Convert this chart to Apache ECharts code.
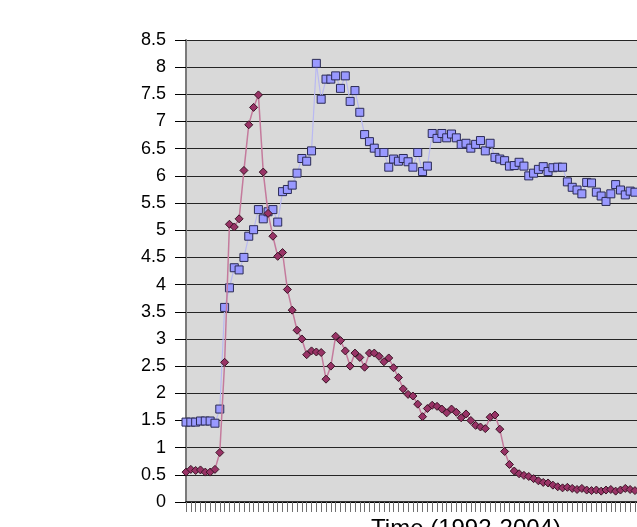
<!DOCTYPE html>
<html>
<head>
<meta charset="utf-8">
<script src="https://cdn.jsdelivr.net/npm/echarts@6/dist/echarts.min.js"></script>
<style>
  html, body { margin: 0; padding: 0; background: #ffffff; overflow: hidden; }
  #chart { width: 760px; height: 527px; }
</style>
</head>
<body>
<div id="chart"></div>
<script>
// Observation slots along the time axis (1992-2004); only the first part carries readings here
const slotCount = 117;
const categories = Array.from({ length: slotCount }, (_, i) => String(i + 1));

// Series 1 (squares)
const seriesA = [
  1.47, 1.47, 1.47, 1.49, 1.49, 1.49, 1.45, 1.71, 3.58, 3.94,
  4.31, 4.27, 4.50, 4.89, 5.01, 5.38, 5.21, 5.34, 5.38, 5.15,
  5.71, 5.75, 5.83, 6.05, 6.32, 6.27, 6.46, 8.07, 7.41, 7.78,
  7.78, 7.84, 7.61, 7.84, 7.37, 7.57, 7.17, 6.76, 6.63, 6.51,
  6.43, 6.43, 6.16, 6.31, 6.27, 6.32, 6.26, 6.16, 6.43, 6.08,
  6.18, 6.78, 6.69, 6.78, 6.70, 6.77, 6.70, 6.58, 6.60, 6.51,
  6.58, 6.65, 6.46, 6.60, 6.34, 6.31, 6.28, 6.18, 6.19, 6.25,
  6.18, 6.00, 6.05, 6.12, 6.17, 6.08, 6.15, 6.16, 6.16, 5.89,
  5.79, 5.74, 5.67, 5.88, 5.87, 5.70, 5.63, 5.53, 5.67, 5.84,
  5.74, 5.65, 5.72, 5.70
];

// Series 2 (diamonds)
const seriesB = [
  0.55, 0.60, 0.58, 0.59, 0.55, 0.55, 0.60, 0.91, 2.57, 5.11,
  5.06, 5.21, 6.10, 6.94, 7.26, 7.49, 6.07, 5.31, 4.89, 4.52,
  4.59, 3.91, 3.53, 3.16, 3.00, 2.71, 2.78, 2.76, 2.75, 2.26,
  2.50, 3.05, 2.97, 2.78, 2.50, 2.74, 2.66, 2.48, 2.74, 2.74,
  2.68, 2.58, 2.65, 2.47, 2.29, 2.08, 1.98, 1.95, 1.80, 1.57,
  1.72, 1.78, 1.76, 1.71, 1.64, 1.71, 1.65, 1.55, 1.62, 1.50,
  1.41, 1.38, 1.35, 1.56, 1.60, 1.34, 0.93, 0.69, 0.57, 0.52,
  0.49, 0.47, 0.43, 0.39, 0.36, 0.35, 0.31, 0.28, 0.26, 0.27,
  0.25, 0.23, 0.25, 0.22, 0.21, 0.22, 0.20, 0.22, 0.23, 0.20,
  0.22, 0.25, 0.23, 0.21
];

// Value axis range
const yMin = 0;
const yMax = 8.5;
const yStep = 0.5;

const xTitle = 'Time (1992-2004)';

const chart = echarts.init(document.getElementById('chart'), null, { renderer: 'canvas' });

chart.setOption({
  animation: false,
  backgroundColor: '#ffffff',
  grid: {
    left: 186,
    right: 14,
    top: 40,
    bottom: 25,
    containLabel: false,
    outerBoundsMode: 'none',
    show: true,
    backgroundColor: '#d9d9d9',
    borderWidth: 0
  },
  xAxis: {
    type: 'category',
    data: categories,
    boundaryGap: false,
    name: xTitle,
    nameLocation: 'middle',
    nameGap: 15,
    nameTextStyle: {
      fontFamily: 'Liberation Sans, Arial, sans-serif',
      fontSize: 24,
      color: '#000000'
    },
    axisLine: { show: true, lineStyle: { color: '#000000', width: 1.5 } },
    axisTick: {
      show: true,
      interval: 0,
      length: 10,
      lineStyle: { color: '#707070', width: 1 }
    },
    axisLabel: { show: false },
    splitLine: { show: false }
  },
  yAxis: {
    type: 'value',
    min: yMin,
    max: yMax,
    interval: yStep,
    axisLine: { show: true, lineStyle: { color: '#7a7a7a', width: 2 } },
    axisTick: { show: true, length: 11, lineStyle: { color: '#000000', width: 1 } },
    axisLabel: {
      margin: 20,
      fontFamily: 'Liberation Sans, Arial, sans-serif',
      fontSize: 18,
      color: '#000000'
    },
    splitLine: { show: true, lineStyle: { color: '#262626', width: 1.2 } }
  },
  series: [
    {
      name: 'Series 1',
      type: 'line',
      data: seriesA,
      symbol: 'rect',
      symbolSize: 8,
      showAllSymbol: true,
      lineStyle: { color: '#b9b9f2', width: 1.2 },
      itemStyle: { color: '#9999ff', borderColor: '#2b2b55', borderWidth: 1 },
      z: 2
    },
    {
      name: 'Series 2',
      type: 'line',
      data: seriesB,
      symbol: 'diamond',
      symbolSize: 8,
      showAllSymbol: true,
      lineStyle: { color: '#c47a9c', width: 1.5 },
      itemStyle: { color: '#993366', borderColor: '#3a1426', borderWidth: 1 },
      z: 3
    }
  ]
});
</script>
</body>
</html>
